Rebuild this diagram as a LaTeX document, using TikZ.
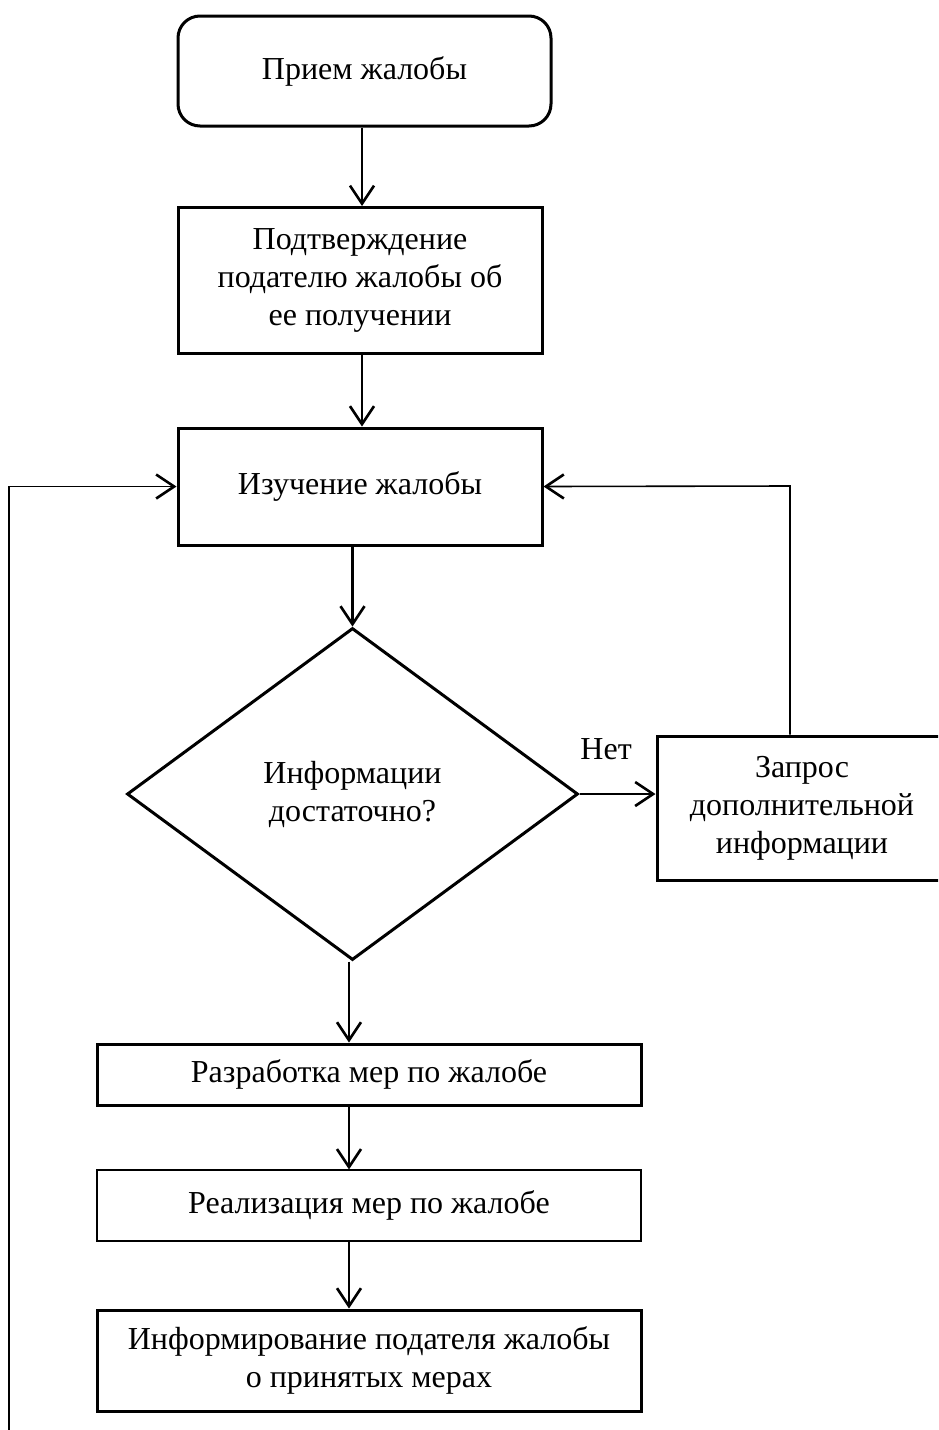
\documentclass[tikz,border=0pt]{standalone}
\usepackage{fontspec}
\setmainfont{Liberation Serif}
\usetikzlibrary{positioning,shapes.geometric,arrows.meta}

\begin{document}
\begin{tikzpicture}[x=1pt,y=-1pt,
  box/.style={draw, line width=3pt, align=center, inner sep=0pt,
    font=\fontsize{32}{38}\selectfont},
  arr/.style={line width=2.6pt, -{Straight Barb[length=18pt,width=24pt,line width=2.6pt]}}]
\useasboundingbox (0,0) rectangle (938,1430);
\begin{scope}
\clip (0,0) rectangle (938,1430);
\node[box, rounded corners=22pt, minimum width=373, minimum height=110] (priem) at (364.5,71) {Прием жалобы};
\node[box, minimum width=364, minimum height=146] (podtv) at (360,280.5) {Подтверждение\\подателю жалобы об\\ее получении};
\node[box, minimum width=364, minimum height=117] (izuch) at (360,486.5) {Изучение жалобы};
\node[box, diamond, aspect=1.358, minimum width=451, minimum height=332] (diam) at (352.5,794) {Информации\\достаточно?};
\node[box, minimum width=290, minimum height=144] (zapros) at (802,808) {Запрос\\дополнительной\\информации};
\node[box, minimum width=544, minimum height=61] (razr) at (369,1074.5) {Разработка мер по жалобе};
\node[box, line width=1.2pt, minimum width=544, minimum height=71] (real) at (369,1205.5) {Реализация мер по жалобе};
\node[box, minimum width=544, minimum height=101] (inform) at (369,1360.5) {Информирование подателя жалобы\\о принятых мерах};
\end{scope}
% main flow
\coordinate (top) at (362,0);
\coordinate (bot) at (349,0);
\draw[arr] (priem.south -| top) -- (podtv.north -| top);
\draw[arr] (podtv.south -| top) -- (izuch.north -| top);
\draw[arr] (izuch.south -| diam.north) -- (diam.north);
\draw[arr] (diam.south -| bot) -- (razr.north -| bot);
\draw[arr] (razr.south -| bot) -- (real.north -| bot);
\draw[arr] (real.south -| bot) -- (inform.north -| bot);
% loops
\draw[arr] (diam.east) -- (diam.east -| zapros.west) node[pos=0.35, above=30pt, font=\fontsize{32}{38}\selectfont] (net) {Нет};
\coordinate (rt) at (790,486);
\draw[arr, line width=1.6pt] (zapros.north -| rt) -- (rt) -- (izuch.east);
\coordinate (lb) at (9,1430);
\draw[arr, line width=1.6pt] (lb) -- (lb |- izuch.west) -- (izuch.west);
\end{tikzpicture}
\end{document}
